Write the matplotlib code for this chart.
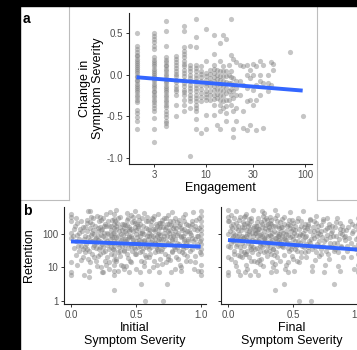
import numpy as np
import matplotlib
matplotlib.use('Agg')
import matplotlib.pyplot as plt
from matplotlib.patches import Rectangle
from matplotlib.lines import Line2D
from matplotlib.ticker import NullLocator

plt.rcParams['font.family'] = ['Liberation Sans', 'DejaVu Sans']

# ---- panel a: change in symptom severity vs engagement ----
eng_levels = [2, 3, 4, 5, 6, 7, 8, 9, 10, 11, 12, 13, 14, 15, 16, 17, 18, 19, 20,
              22, 24, 26, 28, 30, 32, 35, 38, 42, 45, 48, 70, 95]
change_by_eng = [
    [0.50, 0.34, 0.31, 0.27, 0.24, 0.22, 0.19, 0.17, 0.14, 0.12, 0.09, 0.07, 0.04, 0.02, -0.01,
     -0.03, -0.06, -0.08, -0.11, -0.13, -0.16, -0.18, -0.21, -0.24, -0.27, -0.30, -0.33, -0.42,
     -0.46, -0.51, -0.55, -0.65],
    [0.50, 0.47, 0.43, 0.39, 0.34, 0.31, 0.21, 0.18, 0.15, 0.13, 0.10, 0.07, 0.05, 0.02, 0.00,
     -0.03, -0.05, -0.08, -0.11, -0.13, -0.16, -0.19, -0.21, -0.24, -0.27, -0.30, -0.33, -0.36,
     -0.40, -0.44, -0.52, -0.65, -0.81],
    [0.64, 0.52, 0.35, 0.21, 0.18, 0.15, 0.12, 0.10, 0.07, 0.04, 0.01, -0.02, -0.05, -0.07, -0.10,
     -0.13, -0.16, -0.18, -0.21, -0.24, -0.27, -0.30, -0.33, -0.36, -0.39, -0.43, -0.47, -0.51,
     -0.55, -0.58, -0.62],
    [0.23, 0.19, 0.15, 0.12, 0.08, 0.05, 0.01, -0.02, -0.06, -0.09, -0.13, -0.17, -0.20, -0.24,
     -0.36, -0.49],
    [0.58, 0.52, 0.33, 0.29, 0.25, 0.21, 0.17, 0.13, 0.10, 0.06, 0.02, -0.02, -0.06, -0.10, -0.14,
     -0.18, -0.21, -0.24, -0.30, -0.36, -0.43],
    [0.34, 0.12, 0.08, 0.04, 0.00, -0.04, -0.08, -0.12, -0.16, -0.20, -0.24, -0.28, -0.32, -0.40, -0.98],
    [0.67, 0.45, 0.33, 0.12, 0.08, 0.04, 0.00, -0.04, -0.08, -0.12, -0.16, -0.20, -0.24, -0.28,
     -0.32, -0.36, -0.40, -0.44, -0.53, -0.65],
    [0.10, 0.05, 0.01, -0.03, -0.08, -0.12, -0.17, -0.22, -0.27, -0.32, -0.70],
    [0.55, 0.17, 0.02, -0.02, -0.06, -0.10, -0.14, -0.19, -0.23, -0.27, -0.30, -0.48, -0.65],
    [0.06, 0.01, -0.04, -0.09, -0.14, -0.19, -0.24, -0.30],
    [0.48, 0.25, 0.12, 0.07, 0.02, -0.03, -0.08, -0.13, -0.18, -0.24, -0.29, -0.36, -0.48],
    [0.06, 0.00, -0.05, -0.11, -0.17, -0.23, -0.28, -0.60],
    [0.38, 0.17, 0.04, -0.01, -0.06, -0.12, -0.18, -0.24, -0.30, -0.36, -0.44, -0.65],
    [0.48, 0.10, 0.04, -0.02, -0.08, -0.14, -0.20, -0.26, -0.32, -0.40],
    [0.43, 0.04, -0.02, -0.09, -0.16, -0.22, -0.30, -0.38, -0.46, -0.56],
    [0.12, 0.00, -0.10, -0.20, -0.30],
    [0.67, 0.24, 0.04, -0.03, -0.10, -0.17, -0.24, -0.36],
    [0.19, -0.04, -0.12, -0.20, -0.28, -0.44, -0.65, -0.75],
    [0.15, -0.08, -0.16, -0.24, -0.40, -0.56],
    [0.12, -0.08, -0.24],
    [0.10, -0.12, -0.44, -0.64],
    [0.12, 0.00, -0.16, -0.32, -0.66],
    [0.06, -0.04, -0.30, -0.60],
    [0.13, 0.00, -0.18, -0.36],
    [0.10, -0.12, -0.30, -0.66],
    [0.17, 0.00, -0.08, -0.24],
    [0.12, -0.10, -0.64],
    [0.00, -0.10, -0.20],
    [0.15, -0.12],
    [0.13, 0.06],
    [0.27],
    [-0.50],
]
fit_a_x = [2, 95]
fit_a_y = [-0.03, -0.19]

# ---- panel b: retention vs initial / final symptom severity ----
initial_pts = [
    (0, 400), (0, 320), (0, 250), (0, 110), (0, 75), (0, 14), (0, 7), (0, 6),
    (0.03, 180), (0.04, 60), (0.05, 95), (0.06, 30), (0.07, 140), (0.08, 45), (0.09, 20), (0.10, 6),
    (0.05, 12), (0.08, 250), (0.02, 38), (0.10, 70), (0.06, 110), (0.09, 160),
    (0.11, 90), (0.12, 35), (0.13, 500), (0.14, 5), (0.15, 480), (0.15, 65), (0.16, 25), (0.17, 300),
    (0.17, 130), (0.18, 48), (0.19, 16), (0.12, 210), (0.13, 80), (0.14, 8), (0.16, 200), (0.18, 100),
    (0.19, 55), (0.20, 11), (0.11, 28), (0.15, 150), (0.17, 40), (0.20, 360), (0.13, 18), (0.19, 75),
    (0.21, 120), (0.22, 42), (0.23, 260), (0.24, 7), (0.25, 85), (0.25, 7), (0.26, 30), (0.27, 170),
    (0.28, 60), (0.29, 14), (0.30, 450), (0.21, 22), (0.22, 320), (0.23, 95), (0.24, 50), (0.26, 200),
    (0.27, 12), (0.28, 110), (0.29, 35), (0.30, 70), (0.22, 160), (0.25, 28), (0.27, 400), (0.29, 9),
    (0.24, 140), (0.21, 65),
    (0.33, 400), (0.33, 280), (0.33, 200), (0.33, 150), (0.33, 110), (0.33, 80), (0.33, 60), (0.33, 45),
    (0.33, 33), (0.33, 24), (0.33, 17), (0.33, 12), (0.33, 8), (0.33, 6), (0.33, 2.1), (0.31, 130),
    (0.32, 55), (0.34, 250), (0.35, 18), (0.36, 90), (0.37, 40), (0.38, 330), (0.39, 70), (0.40, 11),
    (0.31, 25), (0.35, 170), (0.36, 8), (0.37, 120), (0.38, 30), (0.39, 200), (0.35, 520), (0.40, 95),
    (0.41, 150), (0.42, 48), (0.43, 260), (0.44, 19), (0.45, 85), (0.46, 380), (0.47, 32), (0.48, 120),
    (0.49, 500), (0.50, 60), (0.41, 9), (0.42, 190), (0.43, 70), (0.44, 38), (0.45, 140), (0.46, 14),
    (0.47, 230), (0.48, 52), (0.49, 26), (0.50, 100), (0.43, 420), (0.45, 7), (0.47, 75), (0.49, 160),
    (0.41, 34), (0.44, 300),
    (0.51, 200), (0.52, 40), (0.53, 110), (0.54, 3.2), (0.54, 16), (0.55, 300), (0.56, 65), (0.57, 1),
    (0.57, 24), (0.58, 150), (0.59, 45), (0.60, 8), (0.51, 80), (0.52, 350), (0.53, 28), (0.55, 120),
    (0.56, 11), (0.58, 55), (0.59, 240), (0.60, 90), (0.52, 170), (0.54, 60), (0.56, 420), (0.58, 20),
    (0.60, 35), (0.53, 7),
    (0.61, 130), (0.62, 42), (0.63, 280), (0.64, 15), (0.65, 75), (0.66, 180), (0.67, 30), (0.67, 100),
    (0.67, 60), (0.67, 400), (0.68, 7), (0.69, 220), (0.70, 50), (0.61, 25), (0.62, 95), (0.63, 10),
    (0.64, 340), (0.65, 140), (0.66, 35), (0.68, 110), (0.69, 18), (0.70, 260), (0.62, 190), (0.65, 55),
    (0.68, 70), (0.70, 13),
    (0.71, 1), (0.71, 160), (0.72, 45), (0.73, 300), (0.74, 3.2), (0.74, 85), (0.75, 22), (0.76, 130),
    (0.77, 7), (0.78, 60), (0.79, 240), (0.80, 35), (0.72, 110), (0.73, 14), (0.75, 380), (0.76, 50),
    (0.77, 190), (0.78, 28), (0.79, 90), (0.80, 9), (0.71, 70), (0.74, 200), (0.76, 17), (0.78, 450),
    (0.80, 120),
    (0.81, 150), (0.82, 40), (0.83, 260), (0.84, 12), (0.85, 80), (0.86, 330), (0.87, 25), (0.88, 110),
    (0.89, 55), (0.90, 190), (0.81, 20), (0.82, 95), (0.84, 200), (0.85, 8), (0.86, 45), (0.87, 140),
    (0.88, 400), (0.89, 16), (0.90, 70), (0.83, 32), (0.85, 10), (0.87, 62),
    (0.91, 120), (0.92, 30), (0.93, 240), (0.94, 60), (0.95, 9), (0.96, 170), (0.97, 40), (0.98, 90),
    (0.99, 300), (0.92, 15), (0.94, 450), (0.96, 22), (0.98, 8), (0.93, 75), (0.97, 130),
    (1, 500), (1, 350), (1, 250), (1, 180), (1, 130), (1, 100), (1, 70), (1, 50), (1, 35), (1, 25),
    (1, 12), (1, 8), (1, 6),
]
# denser core of the initial-severity cloud
initial_core = [
    (0.015, 90), (0.025, 140), (0.035, 24), (0.045, 210), (0.055, 45), (0.065, 70), (0.075, 17),
    (0.085, 120), (0.095, 35), (0.035, 300),
    (0.105, 160), (0.115, 50), (0.125, 120), (0.135, 30), (0.145, 230), (0.155, 95), (0.165, 60),
    (0.175, 20), (0.185, 180), (0.195, 38), (0.125, 260), (0.145, 14), (0.165, 110), (0.185, 70),
    (0.105, 40), (0.155, 330),
    (0.205, 90), (0.215, 250), (0.225, 26), (0.235, 130), (0.245, 40), (0.255, 180), (0.265, 75),
    (0.275, 20), (0.285, 240), (0.295, 55), (0.205, 150), (0.225, 62), (0.245, 300), (0.265, 16),
    (0.285, 100), (0.215, 35), (0.255, 110), (0.275, 48), (0.295, 180), (0.235, 10),
    (0.305, 170), (0.315, 80), (0.325, 36), (0.345, 140), (0.355, 60), (0.365, 300), (0.375, 22),
    (0.385, 100), (0.395, 45), (0.305, 40), (0.315, 260), (0.325, 105), (0.345, 16), (0.355, 220),
    (0.365, 50), (0.375, 160), (0.385, 65), (0.395, 130), (0.345, 80), (0.365, 28), (0.385, 12),
    (0.305, 95),
    (0.405, 200), (0.415, 70), (0.425, 110), (0.435, 25), (0.445, 160), (0.455, 50), (0.465, 90),
    (0.475, 330), (0.485, 40), (0.495, 220), (0.405, 30), (0.415, 120), (0.425, 60), (0.435, 190),
    (0.445, 80), (0.455, 16), (0.465, 140), (0.475, 65), (0.485, 250), (0.495, 35), (0.425, 11),
    (0.465, 45), (0.445, 120),
    (0.505, 130), (0.515, 55), (0.525, 260), (0.535, 85), (0.545, 30), (0.555, 180), (0.565, 100),
    (0.575, 42), (0.585, 320), (0.595, 70), (0.505, 25), (0.515, 150), (0.525, 68), (0.535, 200),
    (0.545, 110), (0.555, 38), (0.565, 14), (0.575, 240), (0.585, 85), (0.595, 140), (0.535, 45),
    (0.565, 60), (0.505, 9),
    (0.605, 110), (0.615, 240), (0.625, 65), (0.635, 140), (0.645, 28), (0.655, 200), (0.665, 85),
    (0.675, 45), (0.685, 160), (0.695, 32), (0.605, 20), (0.615, 58), (0.625, 300), (0.635, 90),
    (0.645, 120), (0.655, 40), (0.665, 12), (0.675, 220), (0.685, 95), (0.695, 70), (0.645, 55),
    (0.675, 150),
    (0.705, 210), (0.715, 90), (0.725, 26), (0.735, 160), (0.745, 55), (0.755, 110), (0.765, 240),
    (0.775, 70), (0.785, 150), (0.795, 40), (0.705, 35), (0.715, 300), (0.725, 140), (0.735, 60),
    (0.745, 18), (0.755, 200), (0.765, 80), (0.775, 30), (0.785, 100), (0.795, 180), (0.745, 120),
    (0.805, 70), (0.815, 230), (0.825, 110), (0.835, 50), (0.845, 150), (0.855, 28), (0.865, 90),
    (0.875, 250), (0.885, 40), (0.895, 120), (0.805, 300), (0.815, 55), (0.825, 18), (0.835, 180),
    (0.845, 85), (0.855, 130), (0.865, 35), (0.875, 70), (0.885, 200), (0.895, 22),
    (0.905, 60), (0.915, 180), (0.925, 95), (0.935, 35), (0.945, 140), (0.955, 70), (0.965, 260),
    (0.975, 50), (0.985, 150), (0.995, 28), (0.915, 110), (0.935, 200), (0.955, 14), (0.975, 85),
    (0.995, 60),
]
final_pts = [
    (0, 520), (0, 330), (0, 250), (0, 100), (0, 45), (0, 20), (0, 7), (0, 6),
    (0.02, 380), (0.03, 150), (0.04, 60), (0.05, 25), (0.06, 210), (0.07, 90), (0.08, 8), (0.09, 40),
    (0.10, 130), (0.02, 18), (0.03, 75), (0.05, 300), (0.06, 11), (0.07, 50), (0.08, 180), (0.09, 6),
    (0.10, 32), (0.04, 110), (0.06, 480), (0.08, 70), (0.01, 240), (0.09, 22),
    (0.11, 160), (0.12, 28), (0.13, 350), (0.14, 65), (0.15, 9), (0.16, 120), (0.17, 42), (0.18, 250),
    (0.19, 85), (0.20, 15), (0.11, 55), (0.12, 200), (0.13, 7), (0.14, 400), (0.15, 100), (0.16, 20),
    (0.17, 140), (0.18, 35), (0.19, 520), (0.20, 60), (0.12, 80), (0.14, 12), (0.16, 280), (0.18, 48),
    (0.20, 180), (0.13, 25), (0.17, 6),
    (0.21, 110), (0.22, 38), (0.23, 300), (0.24, 70), (0.25, 13), (0.26, 160), (0.27, 50), (0.28, 420),
    (0.29, 95), (0.30, 22), (0.21, 8), (0.22, 230), (0.23, 60), (0.24, 140), (0.25, 30), (0.26, 500),
    (0.27, 11), (0.28, 75), (0.29, 190), (0.30, 45), (0.22, 120), (0.24, 17), (0.26, 85), (0.28, 28),
    (0.30, 260), (0.23, 6), (0.27, 350), (0.25, 55),
    (0.31, 130), (0.32, 40), (0.33, 270), (0.34, 65), (0.35, 10), (0.36, 2.1), (0.36, 180), (0.37, 28),
    (0.38, 380), (0.39, 90), (0.40, 16), (0.31, 55), (0.32, 210), (0.33, 7), (0.34, 110), (0.35, 35),
    (0.36, 540), (0.37, 75), (0.38, 20), (0.39, 150), (0.40, 48), (0.32, 95), (0.34, 14), (0.36, 300),
    (0.38, 60), (0.40, 230), (0.33, 25), (0.37, 8),
    (0.41, 120), (0.42, 45), (0.43, 3.2), (0.43, 320), (0.44, 70), (0.45, 12), (0.46, 200), (0.47, 30),
    (0.48, 450), (0.49, 85), (0.50, 18), (0.41, 60), (0.42, 160), (0.44, 9), (0.45, 100), (0.46, 38),
    (0.47, 260), (0.48, 55), (0.49, 22), (0.50, 140), (0.43, 75), (0.46, 7), (0.48, 190),
    (0.51, 110), (0.52, 35), (0.53, 240), (0.54, 60), (0.55, 1), (0.55, 14), (0.56, 170), (0.57, 45),
    (0.58, 500), (0.59, 80), (0.60, 20), (0.51, 8), (0.52, 130), (0.54, 300), (0.56, 28), (0.57, 95),
    (0.59, 200), (0.60, 50), (0.53, 16), (0.58, 65),
    (0.61, 150), (0.62, 30), (0.63, 260), (0.64, 1), (0.64, 70), (0.65, 11), (0.66, 120), (0.67, 40),
    (0.68, 350), (0.69, 90), (0.70, 22), (0.62, 200), (0.63, 55), (0.65, 8), (0.66, 240), (0.67, 17),
    (0.69, 130), (0.70, 45),
    (0.71, 100), (0.72, 35), (0.73, 280), (0.74, 60), (0.75, 12), (0.76, 150), (0.77, 25), (0.78, 200),
    (0.79, 80), (0.80, 40), (0.72, 120), (0.74, 7), (0.76, 300), (0.78, 18), (0.80, 170),
    (0.81, 90), (0.82, 3.2), (0.82, 30), (0.83, 230), (0.84, 55), (0.85, 11), (0.86, 140), (0.87, 40),
    (0.88, 100), (0.89, 20), (0.90, 65), (0.84, 300), (0.86, 8), (0.88, 180),
    (0.91, 130), (0.92, 45), (0.93, 75), (0.94, 250), (0.95, 20), (0.96, 110), (0.97, 9), (0.98, 180),
    (0.99, 35),
    (1, 300), (1, 200), (1, 130), (1, 80), (1, 50), (1, 25), (1, 12), (1, 7),
]
# denser core of the final-severity cloud
final_core = [
    (0.015, 120), (0.025, 55), (0.035, 200), (0.045, 30), (0.055, 95), (0.065, 150), (0.075, 24),
    (0.085, 260), (0.095, 70), (0.015, 40), (0.035, 90), (0.055, 14), (0.075, 130), (0.095, 320),
    (0.025, 170), (0.045, 65), (0.065, 45), (0.085, 100),
    (0.105, 90), (0.115, 230), (0.125, 45), (0.135, 130), (0.145, 30), (0.155, 180), (0.165, 70),
    (0.175, 300), (0.185, 110), (0.195, 40), (0.105, 20), (0.115, 75), (0.125, 160), (0.135, 26),
    (0.145, 220), (0.155, 55), (0.165, 100), (0.175, 16), (0.185, 65), (0.195, 150), (0.135, 85),
    (0.165, 200), (0.125, 330), (0.185, 28),
    (0.205, 130), (0.215, 60), (0.225, 170), (0.235, 25), (0.245, 95), (0.255, 230), (0.265, 40),
    (0.275, 120), (0.285, 65), (0.295, 300), (0.205, 35), (0.215, 180), (0.225, 85), (0.235, 140),
    (0.245, 45), (0.255, 18), (0.265, 200), (0.275, 70), (0.285, 150), (0.295, 30), (0.225, 14),
    (0.255, 100), (0.275, 260), (0.215, 110),
    (0.305, 90), (0.315, 160), (0.325, 60), (0.335, 200), (0.345, 35), (0.355, 120), (0.365, 75),
    (0.375, 250), (0.385, 45), (0.395, 100), (0.305, 200), (0.315, 30), (0.325, 140), (0.335, 85),
    (0.345, 170), (0.355, 50), (0.365, 13), (0.375, 110), (0.385, 180), (0.395, 65), (0.325, 330),
    (0.355, 24), (0.385, 90),
    (0.405, 160), (0.415, 85), (0.425, 40), (0.435, 200), (0.445, 120), (0.455, 55), (0.465, 95),
    (0.475, 150), (0.485, 35), (0.495, 260), (0.405, 50), (0.415, 280), (0.425, 110), (0.435, 24),
    (0.445, 65), (0.455, 180), (0.465, 14), (0.475, 80), (0.485, 120), (0.495, 45),
    (0.505, 70), (0.515, 180), (0.525, 95), (0.535, 30), (0.545, 140), (0.555, 55), (0.565, 250),
    (0.575, 110), (0.585, 40), (0.595, 130), (0.505, 220), (0.525, 45), (0.545, 85), (0.565, 20),
    (0.585, 160), (0.515, 60), (0.555, 100), (0.595, 28),
    (0.605, 90), (0.615, 180), (0.625, 60), (0.635, 120), (0.645, 35), (0.655, 160), (0.665, 75),
    (0.675, 220), (0.685, 50), (0.695, 110), (0.615, 40), (0.635, 280), (0.655, 95), (0.675, 28),
    (0.695, 170),
    (0.705, 60), (0.715, 190), (0.725, 80), (0.735, 45), (0.745, 130), (0.755, 30), (0.765, 95),
    (0.775, 160), (0.785, 55), (0.795, 110), (0.715, 25), (0.735, 240), (0.755, 70), (0.775, 40),
    (0.805, 120), (0.815, 55), (0.825, 160), (0.835, 90), (0.845, 28), (0.855, 70), (0.865, 210),
    (0.875, 45), (0.885, 130), (0.895, 80), (0.825, 35), (0.865, 110),
    (0.905, 90), (0.925, 160), (0.945, 55), (0.965, 120), (0.985, 70), (0.915, 30), (0.955, 200),
    (0.975, 40),
]
fit_init_x = [0, 1]
fit_init_y = [60, 42]
fit_final_x = [0, 1]
fit_final_y = [66, 34]

# ---- layout helpers (pixel boxes of the 357x350 figure) ----
W, H = 357, 350
fig = plt.figure(figsize=(W / 100, H / 100), dpi=100)


def box(l, t, r, b):
    return [l / W, 1 - b / H, (r - l) / W, (b - t) / H]


def style(ax):
    for s in ['top', 'right']:
        ax.spines[s].set_visible(False)
    for s in ['left', 'bottom']:
        ax.spines[s].set_linewidth(0.8)
        ax.spines[s].set_color('#222222')
    ax.tick_params(length=2.5, width=0.7, color='#333333', labelsize=7,
                   labelcolor='#4D4D4D', pad=1.5)
    ax.xaxis.set_minor_locator(NullLocator())
    ax.yaxis.set_minor_locator(NullLocator())


pt_kw = dict(s=14, c='#7F7F7F', alpha=0.45, linewidths=0)
line_kw = dict(color='#3366FF', lw=2.8, solid_capstyle='butt')

# panel a
axa = fig.add_axes(box(129, 13, 312, 164))
ea = [e for e, vals in zip(eng_levels, change_by_eng) for _ in vals]
ca = [v for vals in change_by_eng for v in vals]
axa.scatter(ea, ca, **pt_kw)
axa.plot(fit_a_x, fit_a_y, **line_kw)
axa.set_xscale('log')
axa.set_xlim(1.68, 118)
axa.set_ylim(-1.07, 0.74)
style(axa)
axa.set_xticks([3, 10, 30, 100])
axa.set_xticklabels(['3', '10', '30', '100'])
axa.set_yticks([-1.0, -0.5, 0.0, 0.5])
axa.set_yticklabels(['-1.0', '-0.5', '0.0', '0.5'])
axa.set_xlabel('Engagement', fontsize=9, labelpad=2)
axa.set_ylabel('Change in\nSymptom Severity', fontsize=9, labelpad=2, linespacing=1.15)

# panel b
for i, (pts, fx, fy, lab) in enumerate([
        (initial_pts + initial_core, fit_init_x, fit_init_y, 'Initial\nSymptom Severity'),
        (final_pts + final_core, fit_final_x, fit_final_y, 'Final\nSymptom Severity')]):
    left = 64 if i == 0 else 221
    ax = fig.add_axes(box(left, 207, left + 142, 304))
    xs, ys = zip(*pts)
    ax.scatter(xs, ys, **pt_kw)
    ax.plot(fx, fy, **line_kw)
    ax.set_yscale('log')
    ax.set_xlim(-0.054, 1.041)
    ax.set_ylim(0.79, 650)
    style(ax)
    ax.set_xticks([0.0, 0.5, 1.0])
    ax.set_xticklabels(['0.0', '0.5', '1.0'])
    ax.set_yticks([1, 10, 100])
    if i == 0:
        ax.set_yticklabels(['1', '10', '100'])
        ax.set_ylabel('Retention', fontsize=9, labelpad=5)
    else:
        ax.tick_params(labelleft=False)
    ax.set_xlabel(lab, fontsize=9, labelpad=2, linespacing=1.1)

# frame: black strips and light grey panel borders
fig.add_artist(Rectangle((0, 0), 20 / W, 1, transform=fig.transFigure, color='black', zorder=10))
fig.add_artist(Rectangle((0, 1 - 6 / H), 1, 6 / H, transform=fig.transFigure, color='black', zorder=10))
gl = dict(color='#BDBDBD', lw=0.8, transform=fig.transFigure)
fig.add_artist(Line2D([68.5 / W, 68.5 / W], [1 - 6 / H, 1 - 200 / H], **gl))
fig.add_artist(Line2D([317 / W, 317 / W], [1 - 6 / H, 1 - 200 / H], **gl))
fig.add_artist(Line2D([20 / W, 68.5 / W], [1 - 200 / H, 1 - 200 / H], **gl))
fig.add_artist(Line2D([317 / W, 1], [1 - 200 / H, 1 - 200 / H], **gl))

fig.text(23 / W, 1 - 12 / H, 'a', fontsize=10, fontweight='bold', va='top')
fig.text(23 / W, 1 - 204 / H, 'b', fontsize=10, fontweight='bold', va='top')

fig.savefig('out.png', dpi=100)
